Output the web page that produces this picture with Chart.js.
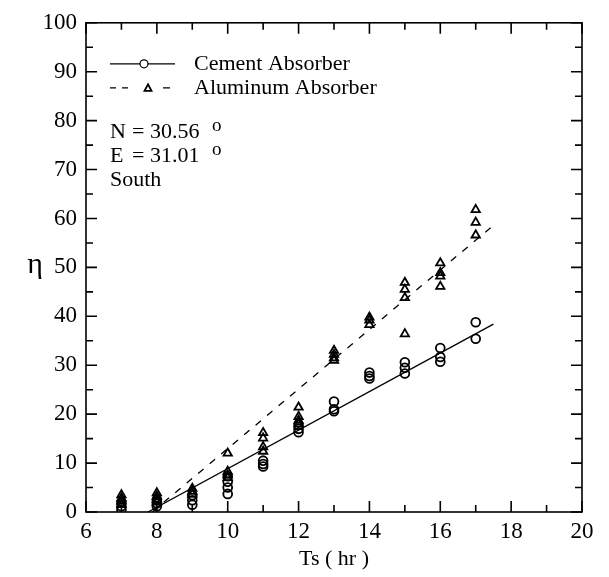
<!DOCTYPE html>
<html>
<head>
<meta charset="utf-8">
<script src="https://cdn.jsdelivr.net/npm/chart.js@4/dist/chart.umd.min.js"></script>
<style>
  html, body { margin: 0; padding: 0; background: #fff; }
  #wrap { width: 609px; height: 577px; }
</style>
</head>
<body>
<div id="wrap"><canvas id="chart" width="609" height="577"></canvas></div>
<script>
// datos
const hours = [7, 8, 9, 10, 11, 12, 13, 14, 15, 16, 17];
const cementEta = [
  [2.0, 1.2, 0.5], [2.5, 1.8, 1.2], [3.4, 2.4, 1.5], [7.3, 6.2, 5.0, 3.7],
  [10.5, 9.8, 9.3], [17.8, 17.0, 16.3], [22.6, 21.0, 20.6], [28.5, 27.8, 27.3],
  [30.6, 29.5, 28.3], [33.5, 31.7, 30.7], [38.8, 35.4]
];
const aluminumEta = [
  [3.5, 2.8, 2.2, 1.5], [3.9, 3.2, 2.6, 2.0], [4.8, 4.2, 3.6], [12.0, 8.3, 7.5, 7.0],
  [16.2, 15.1, 13.3, 12.4], [21.4, 19.5, 18.7, 18.0], [33.0, 32.2, 31.5, 31.0],
  [39.8, 39.2, 38.3], [46.9, 45.5, 43.8, 36.4], [50.9, 48.9, 48.2, 46.1], [61.8, 59.2, 56.6]
];
// rectas de ajuste (extremos leidos)
const cementFitX = [7.75, 17.5];
const cementFitY = [0, 38.4];
const aluminumFitX = [7.87, 17.5];
const aluminumFitY = [0, 58.6];
const xTicks = [6, 8, 10, 12, 14, 16, 18, 20];
const yTicks = [0, 10, 20, 30, 40, 50, 60, 70, 80, 90, 100];
const seriesNames = ['Cement Absorber', 'Aluminum Absorber'];
const siteNotes = [['N', '= 30.56', 'o'], ['E', '= 31.01', 'o'], ['South', '', '']];

const SERIF = '"Liberation Serif", "Times New Roman", serif';

const toPoints = (sets) => hours.flatMap((h, i) => sets[i].map(v => ({ x: h, y: v })));
const toLine = (xs, ys) => xs.map((x, i) => ({ x: x, y: ys[i] }));

// caja, marcas hacia dentro y leyenda
const frame = {
  id: 'frame',
  afterDatasetsDraw(chart) {
    const { ctx, chartArea: a, scales: { x, y } } = chart;
    ctx.save();
    ctx.strokeStyle = '#000';
    ctx.lineWidth = 1.6;
    ctx.strokeRect(a.left, a.top, a.right - a.left, a.bottom - a.top);
    ctx.beginPath();
    for (let v = 6; v <= 20; v++) {
      const px = x.getPixelForValue(v);
      const len = v % 2 === 0 ? 11 : 7;
      ctx.moveTo(px, a.bottom); ctx.lineTo(px, a.bottom - len);
      ctx.moveTo(px, a.top); ctx.lineTo(px, a.top + len);
    }
    for (let v = 0; v <= 100; v += 5) {
      const py = y.getPixelForValue(v);
      const len = v % 10 === 0 ? 11 : 7;
      ctx.moveTo(a.left, py); ctx.lineTo(a.left + len, py);
      ctx.moveTo(a.right, py); ctx.lineTo(a.right - len, py);
    }
    ctx.stroke();
    ctx.restore();
  },
  afterDraw(chart) {
    const { ctx, chartArea: a } = chart;
    ctx.save();
    ctx.fillStyle = '#000';
    ctx.strokeStyle = '#000';
    // leyenda
    const lx0 = a.left + 24, lx1 = a.left + 89, lmid = a.left + 58;
    const row1 = a.top + 41, row2 = a.top + 65;
    ctx.lineWidth = 1.2;
    ctx.beginPath(); ctx.moveTo(lx0, row1); ctx.lineTo(lx1, row1); ctx.stroke();
    ctx.beginPath(); ctx.arc(lmid, row1, 4, 0, Math.PI * 2);
    ctx.fillStyle = '#fff'; ctx.fill(); ctx.stroke();
    ctx.beginPath();
    ctx.moveTo(lx0, row2); ctx.lineTo(lx0 + 6, row2);
    ctx.moveTo(lx0 + 12, row2); ctx.lineTo(lx0 + 18, row2);
    ctx.moveTo(lx1 - 12, row2); ctx.lineTo(lx1 - 5, row2);
    ctx.stroke();
    ctx.lineWidth = 1.8;
    ctx.beginPath();
    ctx.moveTo(lmid + 4, row2 - 3.5); ctx.lineTo(lmid + 7.5, row2 + 3); ctx.lineTo(lmid + 0.5, row2 + 3);
    ctx.closePath(); ctx.stroke();
    ctx.fillStyle = '#000';
    ctx.font = '22px ' + SERIF;
    ctx.textBaseline = 'middle';
    ctx.textAlign = 'left';
    ctx.fillText(seriesNames[0], a.left + 108, row1);
    ctx.fillText(seriesNames[1], a.left + 108, row2);
    // coordenadas del sitio
    siteNotes.forEach((n, i) => {
      const ty = a.top + 109 + i * 24;
      ctx.font = '22px ' + SERIF;
      ctx.fillText(n[0], a.left + 24, ty);
      if (n[1]) ctx.fillText(n[1], a.left + 46, ty);
      if (n[2]) { ctx.font = '19px ' + SERIF; ctx.fillText(n[2], a.left + 126, ty - 6); }
    });
    // eta sin girar
    ctx.font = '30px ' + SERIF;
    ctx.textAlign = 'center';
    ctx.fillText('\u03b7', 35, (a.top + a.bottom) / 2 - 2);
    ctx.restore();
  }
};

new Chart(document.getElementById('chart'), {
  type: 'scatter',
  data: {
    datasets: [
      {
        label: seriesNames[0],
        data: toPoints(cementEta),
        pointStyle: 'circle',
        pointRadius: 4.4,
        borderColor: '#000',
        backgroundColor: 'rgba(0,0,0,0)',
        borderWidth: 1.8
      },
      {
        label: seriesNames[1],
        data: toPoints(aluminumEta),
        pointStyle: 'triangle',
        pointRadius: 4.8,
        borderColor: '#000',
        backgroundColor: 'rgba(0,0,0,0)',
        borderWidth: 1.8
      },
      {
        label: 'fit cement',
        data: toLine(cementFitX, cementFitY),
        showLine: true,
        pointRadius: 0,
        borderColor: '#000',
        borderWidth: 1.3
      },
      {
        label: 'fit aluminum',
        data: toLine(aluminumFitX, aluminumFitY),
        showLine: true,
        pointRadius: 0,
        borderColor: '#000',
        borderWidth: 1.3,
        borderDash: [7, 8]
      }
    ]
  },
  options: {
    responsive: false,
    animation: false,
    layout: { padding: { top: 17, right: 27, bottom: 0, left: 0 } },
    plugins: { legend: { display: false }, tooltip: { enabled: false } },
    scales: {
      x: {
        type: 'linear', min: 6, max: 20,
        afterFit: (s) => { s.height = 65; },
        afterBuildTicks: (s) => { s.ticks = xTicks.map(v => ({ value: v })); },
        grid: { display: false, drawTicks: false },
        border: { display: false },
        ticks: { color: '#000', padding: 6, font: { family: SERIF, size: 23 } },
        title: { display: true, text: 'Ts ( hr )', color: '#000', padding: 5, font: { family: SERIF, size: 22 } }
      },
      y: {
        type: 'linear', min: 0, max: 100,
        afterFit: (s) => { s.width = 86; },
        afterBuildTicks: (s) => { s.ticks = yTicks.map(v => ({ value: v })); },
        grid: { display: false, drawTicks: false },
        border: { display: false },
        ticks: { color: '#000', padding: 9, font: { family: SERIF, size: 23 } }
      }
    }
  },
  plugins: [frame]
});
</script>
</body>
</html>
